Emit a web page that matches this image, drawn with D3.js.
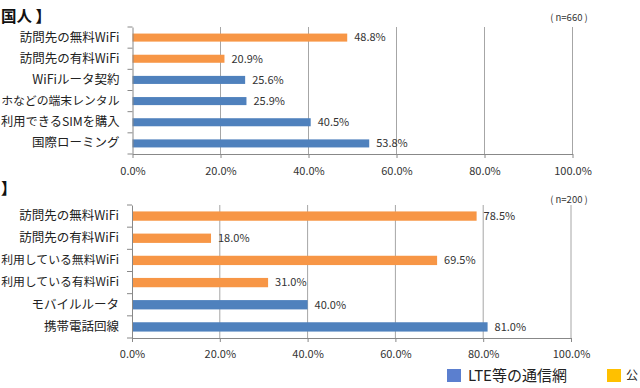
<!DOCTYPE html>
<html><head><meta charset="utf-8">
<script src="https://cdnjs.cloudflare.com/ajax/libs/d3/7.8.5/d3.min.js"></script>
<style>
html,body{margin:0;padding:0;background:#fff;overflow:hidden}
text{font-family:"Noto Sans CJK JP","Noto Sans",sans-serif}
</style></head><body>
<svg id="c" width="640" height="388"></svg>
<script>
// Data (visible text of the cropped reference)
const topTitle = "国人 】";
const topN = "( n=660 )";
const topCategories = ["訪問先の無料WiFi","訪問先の有料WiFi","WiFiルータ契約","ホなどの端末レンタル","利用できるSIMを購入","国際ローミング"];
const topValues = [48.8, 20.9, 25.6, 25.9, 40.5, 53.8];
const topTypes = ["wifi","wifi","lte","lte","lte","lte"];

const bottomTitle = "】";
const bottomN = "( n=200 )";
const bottomCategories = ["訪問先の無料WiFi","訪問先の有料WiFi","利用している無料WiFi","利用している有料WiFi","モバイルルータ","携帯電話回線"];
const bottomValues = [78.5, 18.0, 69.5, 31.0, 40.0, 81.0];
const bottomTypes = ["wifi","wifi","wifi","wifi","lte","lte"];

const xTicks = [0, 20, 40, 60, 80, 100];
const legendLabels = ["LTE等の通信網", "公"];

const barColor = {lte:"#4F81BD", wifi:"#F79646"};
const legendColors = ["#5B7FCF", "#FFC000"];

const svg = d3.select("#c");

function panel(cfg){
  const g = svg.append("g");
  const x = d3.scaleLinear().domain([0,100]).range([cfg.x0, cfg.x1]);
  const y = d3.scaleBand().domain(cfg.cats).range([cfg.y0, cfg.y1])
    .paddingInner(cfg.pad).paddingOuter(cfg.pad/2);
  g.selectAll("line.grid").data(xTicks.filter(t=>t>0)).enter().append("line")
    .attr("x1", d=>x(d)).attr("x2", d=>x(d))
    .attr("y1", cfg.y0).attr("y2", cfg.y1)
    .attr("stroke", "#a6a6a6").attr("stroke-width", 1);
  g.selectAll("rect.bar").data(cfg.vals).enter().append("rect")
    .attr("x", x(0)).attr("y", (d,i)=>y(cfg.cats[i]))
    .attr("width", d=>x(d)-x(0)).attr("height", y.bandwidth())
    .attr("fill", (d,i)=>barColor[cfg.types[i]]);
  g.selectAll("text.val").data(cfg.vals).enter().append("text")
    .attr("x", d=>x(d)+7).attr("y", (d,i)=>y(cfg.cats[i])+y.bandwidth()/2)
    .attr("dy","0.35em").attr("font-size", 11).attr("fill","#333")
    .text(d=>d.toFixed(1)+"%");
  const xa = d3.axisBottom(x).tickValues(xTicks).tickSize(4).tickSizeOuter(0)
    .tickFormat(d=>d.toFixed(1)+"%");
  const gx = g.append("g").attr("transform", `translate(0,${cfg.y1})`).call(xa);
  gx.select(".domain").attr("stroke","#888");
  gx.selectAll(".tick line").attr("stroke","#888");
  gx.selectAll(".tick text").attr("font-size",11).attr("fill","#333").attr("dy", cfg.tickDy)
    .attr("font-family", "'Noto Sans',sans-serif");
  const ya = d3.axisLeft(y).tickSize(0).tickPadding(13);
  const gy = g.append("g").attr("transform", `translate(${cfg.x0},0)`).call(ya);
  gy.select(".domain").attr("stroke","#888");
  gy.selectAll(".tick text").attr("font-size",12.5).attr("fill","#222")
    .each(function(){
      const avail = cfg.x0 - 13 - 1;
      const w = this.getComputedTextLength();
      if (w > avail) d3.select(this).attr("font-size", 12.5*avail/w);
    });
  const bounds = d3.range(cfg.cats.length+1).map(i=>cfg.y0 + i*y.step());
  g.selectAll("line.bt").data(bounds).enter().append("line")
    .attr("x1", cfg.x0-5).attr("x2", cfg.x0).attr("y1", d=>d).attr("y2", d=>d)
    .attr("stroke","#888");
  g.append("text").attr("x", cfg.nx).attr("y", cfg.ny).attr("text-anchor","middle")
    .attr("font-size", 9.5).attr("fill","#333").attr("font-family","'Noto Sans',sans-serif").text(cfg.n);
  g.append("text").attr("x", 1).attr("y", cfg.ty)
    .attr("font-size", 15.5).attr("font-weight","bold").attr("fill","#111").text(cfg.title);
}

panel({cats: topCategories, vals: topValues, types: topTypes,
  x0:132.5, x1:572.5, y0:27, y1:154, pad:0.62, tickDy:"1.25em",
  n: topN, nx:569, ny:21, title: topTitle, ty:22});
panel({cats: bottomCategories, vals: bottomValues, types: bottomTypes,
  x0:132, x1:571, y0:205, y1:338, pad:0.58, tickDy:"1.2em",
  n: bottomN, nx:569, ny:203, title: bottomTitle, ty:194});

const lg = svg.append("g");
const lx = [447, 607];
const lgx = [468, 626];
const lgs = [15, 12];
legendLabels.forEach((lab,i)=>{
  lg.append("rect").attr("x", lx[i]).attr("y", 369).attr("width", 14).attr("height", 13).attr("fill", legendColors[i]);
  lg.append("text").attr("x", lgx[i]).attr("y", 376).attr("dy","0.35em")
    .attr("font-size", lgs[i]).attr("fill","#222").text(lab);
});
</script></body></html>
